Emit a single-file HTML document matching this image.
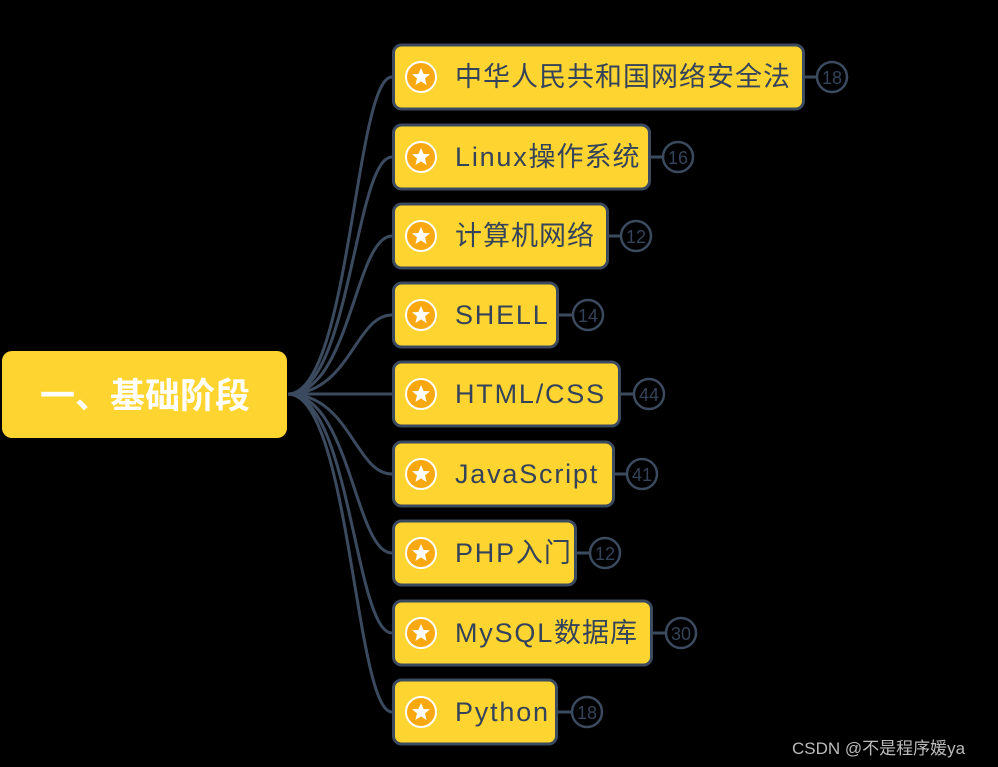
<!DOCTYPE html>
<html><head><meta charset="utf-8"><style>
html,body{margin:0;padding:0;background:#000;width:998px;height:767px;overflow:hidden}
svg{display:block}
text{font-family:"Liberation Sans","Noto Sans CJK SC",sans-serif}
.l{letter-spacing:1.8px}
.c{letter-spacing:1px}
</style></head><body>
<svg width="998" height="767" viewBox="0 0 998 767" xmlns="http://www.w3.org/2000/svg">
<rect x="2" y="351" width="285" height="87" rx="10" fill="#fed530"/>
<text x="145" y="408" font-size="35" font-weight="bold" fill="#fff" text-anchor="middle" font-family="'Noto Sans CJK SC',sans-serif">一、基础阶段</text>
<g fill="none" stroke="#3b4a5e" stroke-width="3">
<path d="M288 394 C 350 394, 355 77, 392 77"/>
<path d="M288 394 C 350 394, 355 157, 392 157"/>
<path d="M288 394 C 350 394, 355 236, 392 236"/>
<path d="M288 394 C 350 394, 355 315, 392 315"/>
<path d="M288 394 L 392 394"/>
<path d="M288 394 C 350 394, 355 474, 392 474"/>
<path d="M288 394 C 350 394, 355 553, 392 553"/>
<path d="M288 394 C 350 394, 355 633, 392 633"/>
<path d="M288 394 C 350 394, 355 712, 392 712"/>
</g>
<defs>
<g id="ic"><circle r="15" fill="#f9a90f" stroke="#fff" stroke-width="2"/><polygon points="0,-9 2.6,-3 9,-2.8 4,1.4 5.6,8 0,4.4 -5.6,8 -4,1.4 -9,-2.8 -2.6,-3" fill="#fff"/></g>
</defs>
<g font-size="27" fill="#34435a">
<g transform="translate(0,77)"><rect x="393.5" y="-32" width="410" height="64" rx="8" fill="#fed530" stroke="#3b4a5e" stroke-width="3"/><use href="#ic" x="421"/><text x="455" y="9" class="c">中华人民共和国网络安全法</text><line x1="805" y1="0" x2="817" y2="0" stroke="#3b4a5e" stroke-width="3"/><circle cx="832" cy="0" r="15" fill="none" stroke="#3b4a5e" stroke-width="2.5"/><text x="832" y="7" font-size="18" text-anchor="middle">18</text></g>
<g transform="translate(0,157)"><rect x="393.5" y="-32" width="256" height="64" rx="8" fill="#fed530" stroke="#3b4a5e" stroke-width="3"/><use href="#ic" x="421"/><text x="455" y="9" class="l">Linux<tspan class="c">操作系统</tspan></text><line x1="651" y1="0" x2="663" y2="0" stroke="#3b4a5e" stroke-width="3"/><circle cx="678" cy="0" r="15" fill="none" stroke="#3b4a5e" stroke-width="2.5"/><text x="678" y="7" font-size="18" text-anchor="middle">16</text></g>
<g transform="translate(0,236)"><rect x="393.5" y="-32" width="214" height="64" rx="8" fill="#fed530" stroke="#3b4a5e" stroke-width="3"/><use href="#ic" x="421"/><text x="455" y="9" class="c">计算机网络</text><line x1="609" y1="0" x2="621" y2="0" stroke="#3b4a5e" stroke-width="3"/><circle cx="636" cy="0" r="15" fill="none" stroke="#3b4a5e" stroke-width="2.5"/><text x="636" y="7" font-size="18" text-anchor="middle">12</text></g>
<g transform="translate(0,315)"><rect x="393.5" y="-32" width="164" height="64" rx="8" fill="#fed530" stroke="#3b4a5e" stroke-width="3"/><use href="#ic" x="421"/><text x="455" y="9" class="l">SHELL</text><line x1="559" y1="0" x2="573" y2="0" stroke="#3b4a5e" stroke-width="3"/><circle cx="588" cy="0" r="15" fill="none" stroke="#3b4a5e" stroke-width="2.5"/><text x="588" y="7" font-size="18" text-anchor="middle">14</text></g>
<g transform="translate(0,394)"><rect x="393.5" y="-32" width="226" height="64" rx="8" fill="#fed530" stroke="#3b4a5e" stroke-width="3"/><use href="#ic" x="421"/><text x="455" y="9" class="l">HTML/CSS</text><line x1="621" y1="0" x2="634" y2="0" stroke="#3b4a5e" stroke-width="3"/><circle cx="649" cy="0" r="15" fill="none" stroke="#3b4a5e" stroke-width="2.5"/><text x="649" y="7" font-size="18" text-anchor="middle">44</text></g>
<g transform="translate(0,474)"><rect x="393.5" y="-32" width="220" height="64" rx="8" fill="#fed530" stroke="#3b4a5e" stroke-width="3"/><use href="#ic" x="421"/><text x="455" y="9" class="l">JavaScript</text><line x1="615" y1="0" x2="627" y2="0" stroke="#3b4a5e" stroke-width="3"/><circle cx="642" cy="0" r="15" fill="none" stroke="#3b4a5e" stroke-width="2.5"/><text x="642" y="7" font-size="18" text-anchor="middle">41</text></g>
<g transform="translate(0,553)"><rect x="393.5" y="-32" width="182" height="64" rx="8" fill="#fed530" stroke="#3b4a5e" stroke-width="3"/><use href="#ic" x="421"/><text x="455" y="9" class="l">PHP<tspan class="c">入门</tspan></text><line x1="577" y1="0" x2="590" y2="0" stroke="#3b4a5e" stroke-width="3"/><circle cx="605" cy="0" r="15" fill="none" stroke="#3b4a5e" stroke-width="2.5"/><text x="605" y="7" font-size="18" text-anchor="middle">12</text></g>
<g transform="translate(0,633)"><rect x="393.5" y="-32" width="258" height="64" rx="8" fill="#fed530" stroke="#3b4a5e" stroke-width="3"/><use href="#ic" x="421"/><text x="455" y="9" class="l">MySQL<tspan class="c">数据库</tspan></text><line x1="653" y1="0" x2="666" y2="0" stroke="#3b4a5e" stroke-width="3"/><circle cx="681" cy="0" r="15" fill="none" stroke="#3b4a5e" stroke-width="2.5"/><text x="681" y="7" font-size="18" text-anchor="middle">30</text></g>
<g transform="translate(0,712)"><rect x="393.5" y="-32" width="163" height="64" rx="8" fill="#fed530" stroke="#3b4a5e" stroke-width="3"/><use href="#ic" x="421"/><text x="455" y="9" class="l">Python</text><line x1="558" y1="0" x2="572" y2="0" stroke="#3b4a5e" stroke-width="3"/><circle cx="587" cy="0" r="15" fill="none" stroke="#3b4a5e" stroke-width="2.5"/><text x="587" y="7" font-size="18" text-anchor="middle">18</text></g>
</g>
<text x="792" y="754" font-size="17" fill="#bbb">CSDN @不是程序媛ya</text>
</svg>
</body></html>
